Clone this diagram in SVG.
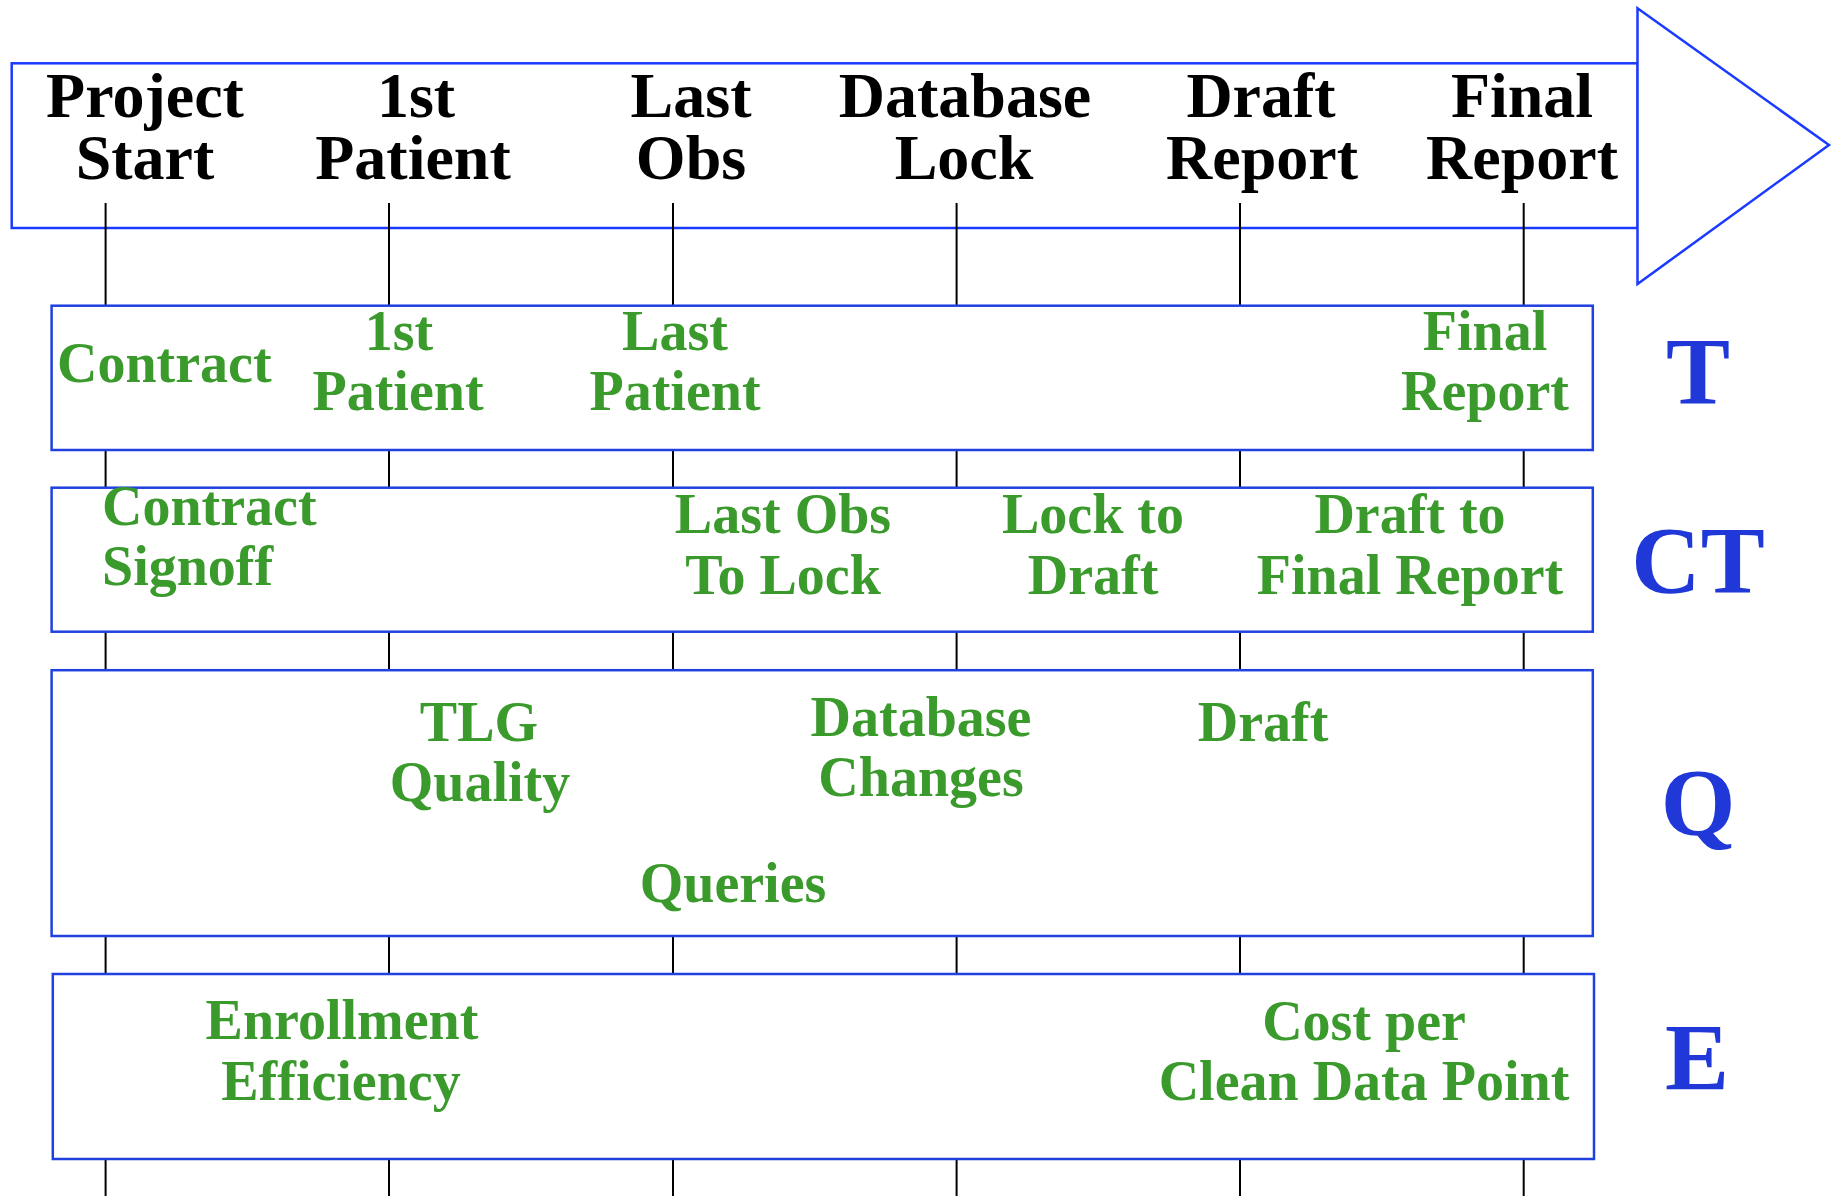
<svg xmlns="http://www.w3.org/2000/svg" width="1834" height="1196" viewBox="0 0 1834 1196">
<style>
.hdr{font-family:"Liberation Serif","Times New Roman",serif;font-weight:bold;font-size:64px;fill:#000;text-anchor:middle}
.g{font-family:"Liberation Serif","Times New Roman",serif;font-weight:bold;font-size:56px;fill:#3a9a2c;text-anchor:middle}
.gl{text-anchor:start}
.big{font-family:"Liberation Serif","Times New Roman",serif;font-weight:bold;font-size:96px;fill:#2038d8;text-anchor:middle}
.box{fill:#fff;stroke:#2040e0;stroke-width:2.5}
.arr{fill:#fff;stroke:#1a3aff;stroke-width:2.5}
.tick{stroke:#000;stroke-width:2;fill:none}
</style>
<g id="timeline-arrow">
<rect class="arr" x="11.7" y="63.3" width="1626" height="164.7"/>
<polygon class="arr" points="1637.5,8.3 1829,145 1637.5,284"/>
<text class="hdr" x="145" y="117">Project</text>
<text class="hdr" x="145" y="179">Start</text>
<text class="hdr" x="416" y="117">1st</text>
<text class="hdr" x="413" y="179">Patient</text>
<text class="hdr" x="691" y="117">Last</text>
<text class="hdr" x="691" y="179">Obs</text>
<text class="hdr" x="965" y="117">Database</text>
<text class="hdr" x="964" y="179">Lock</text>
<text class="hdr" x="1261" y="117">Draft</text>
<text class="hdr" x="1262" y="179">Report</text>
<text class="hdr" x="1522" y="117">Final</text>
<text class="hdr" x="1522" y="179">Report</text>
</g>
<g id="connectors">
<line class="tick" x1="105.6" y1="203" x2="105.6" y2="1196"/>
<line class="tick" x1="389" y1="203" x2="389" y2="1196"/>
<line class="tick" x1="673" y1="203" x2="673" y2="1196"/>
<line class="tick" x1="956.6" y1="203" x2="956.6" y2="1196"/>
<line class="tick" x1="1240" y1="203" x2="1240" y2="1196"/>
<line class="tick" x1="1523.7" y1="203" x2="1523.7" y2="1196"/>
</g>
<g id="row-T">
<rect class="box" x="51.6" y="305.7" width="1541.2" height="144.3"/>
<text class="g gl" x="57" y="381.7">Contract</text>
<text class="g" x="399" y="350">1st</text>
<text class="g" x="398" y="410">Patient</text>
<text class="g" x="675" y="350">Last</text>
<text class="g" x="675" y="410">Patient</text>
<text class="g" x="1485" y="350">Final</text>
<text class="g" x="1485" y="410">Report</text>
</g>
<g id="row-CT">
<rect class="box" x="51.6" y="487.7" width="1541.2" height="144"/>
<text class="g gl" x="102" y="525">Contract</text>
<text class="g gl" x="102" y="585">Signoff</text>
<text class="g" x="783" y="533">Last Obs</text>
<text class="g" x="783" y="594">To Lock</text>
<text class="g" x="1093" y="533">Lock to</text>
<text class="g" x="1093" y="594">Draft</text>
<text class="g" x="1410" y="533">Draft to</text>
<text class="g" x="1410" y="594">Final Report</text>
</g>
<g id="row-Q">
<rect class="box" x="51.6" y="670.2" width="1541.2" height="265.8"/>
<text class="g" x="479" y="741">TLG</text>
<text class="g" x="480" y="801">Quality</text>
<text class="g" x="921" y="736">Database</text>
<text class="g" x="921" y="796">Changes</text>
<text class="g" x="1263" y="741">Draft</text>
<text class="g" x="733" y="902">Queries</text>
</g>
<g id="row-E">
<rect class="box" x="52.8" y="974" width="1541.2" height="185"/>
<text class="g" x="342" y="1039">Enrollment</text>
<text class="g" x="341" y="1100">Efficiency</text>
<text class="g" x="1364" y="1040">Cost per</text>
<text class="g" x="1364" y="1100">Clean Data Point</text>
</g>
<g id="label-T"><text class="big" x="1698" y="404">T</text></g>
<g id="label-CT"><text class="big" x="1698" y="593">CT</text></g>
<g id="label-Q"><text class="big" x="1698" y="835">Q</text></g>
<g id="label-E"><text class="big" x="1697" y="1090">E</text></g>
</svg>
